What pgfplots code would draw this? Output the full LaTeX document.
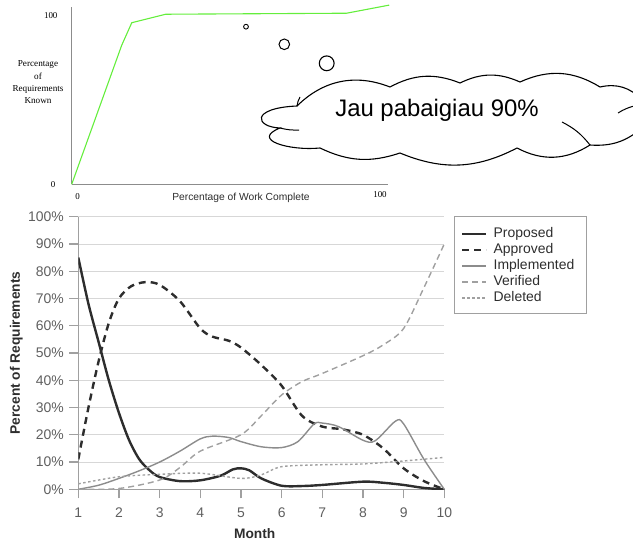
\documentclass[border=0pt]{standalone}
\usepackage{pgfplots}
\pgfplotsset{compat=1.18}
\usepackage{fontspec}
\setmainfont{Liberation Sans}
\newfontfamily\serif{Liberation Serif}
\definecolor{lgreen}{RGB}{100,238,60}
\definecolor{dk}{RGB}{45,45,45}
\definecolor{mg}{RGB}{140,140,140}
\definecolor{lg}{RGB}{160,160,160}
\definecolor{grd}{RGB}{215,215,215}
\definecolor{tl}{RGB}{95,95,95}
\begin{document}
\begin{tikzpicture}
% ---------- top chart ----------
\begin{axis}[
  at={(71.7bp,-184.3bp)}, anchor=south west,
  scale only axis, width=316.3bp, height=177bp,
  xmin=0, xmax=100, ymin=0, ymax=104.7,
  axis lines=left, axis line style={-, draw=mg, line width=1.3bp},
  xtick=\empty, ytick=\empty, clip=false,
]
\addplot[lgreen, line width=1.1bp] coordinates {
  (0,0) (15.8,82.2) (19.0,95.6) (29.7,100.6) (86.9,101.2) (100.4,106)
};
\end{axis}
\node[font=\serif\fontsize{9}{10}\selectfont, anchor=east] at (61bp,-15.3bp) {100};
\node[font=\serif\fontsize{9}{10}\selectfont, anchor=east] at (59bp,-185bp) {0};
\node[font=\serif\fontsize{9}{10}\selectfont] at (77.7bp,-197bp) {0};
\node[font=\serif\fontsize{9}{10}\selectfont] at (380bp,-195bp) {100};
\node[font=\fontsize{10.3}{12}\selectfont, text=dk] at (241bp,-198bp) {Percentage of Work Complete};
\node[font=\serif\fontsize{9.2}{12.4}\selectfont, align=center] at (38bp,-82.5bp) {Percentage\\of\\Requirements\\Known};
% thought cloud
\draw[line width=1.1bp, fill=white]
  (297bp,-106bp) to[bend left=33] (390bp,-87bp)
  to[bend left=25] (460bp,-83bp)
  to[bend left=25] (520bp,-82bp)
  to[bend left=28] (600bp,-87bp)
  to[bend left=30] (642bp,-100bp) -- (645bp,-100bp) -- (645bp,-128bp) -- (642bp,-128bp)
  to[bend left=22] (590bp,-145bp)
  to[bend left=30] (517bp,-148bp)
  to[bend left=25] (400bp,-153bp)
  to[bend left=22] (320bp,-148bp)
  .. controls (290bp,-151bp) and (250bp,-140bp) .. (280bp,-128bp)
  .. controls (255bp,-127bp) and (250bp,-108bp) .. (297bp,-106bp) -- cycle;
\draw[line width=1bp] (280bp,-128bp) to[bend right=8] (299bp,-130bp);
\draw[line width=1bp] (562bp,-122bp) to[bend left=12] (590bp,-145bp);
\draw[line width=1bp] (618bp,-113bp) to[bend left=8] (634bp,-106bp);
\draw[line width=1bp] (297bp,-106bp) to[bend left=10] (300bp,-97bp);
\node[font=\fontsize{24}{28}\selectfont] at (437bp,-110bp) {Jau pabaigiau 90\%};
\draw[line width=0.9bp] (246bp,-26.7bp) circle (2.4bp);
\draw[line width=1bp] (284.3bp,-44.3bp) circle (5.3bp);
\draw[line width=1.1bp] (326.7bp,-63.3bp) circle (7.4bp);
% legend frame
\draw[lg, line width=1.2bp] (454.5bp,-216.7bp) rectangle (586.7bp,-313.3bp);
% ---------- bottom chart ----------
\begin{axis}[
  at={(78.3bp,-489.3bp)}, anchor=south west,
  scale only axis, width=366bp, height=272.6bp,
  xmin=1, xmax=10, ymin=0, ymax=100,
  axis x line*=bottom, axis y line*=left,
  axis line style={-, draw=lg, line width=1.4bp},
  xtick={1,...,10}, ytick={0,10,...,100},
  yticklabel={\pgfmathprintnumber{\tick}\%},
  /pgf/number format/assume math mode=true,
  tick align=outside, major tick length=9bp,
  tick style={draw=lg, line width=1.2bp},
  ymajorgrids, grid style={draw=grd, line width=0.9bp},
  ticklabel style={font=\fontsize{14}{16}\selectfont, text=tl},
  yticklabel style={xshift=-2bp},
  xticklabel style={yshift=-6bp},
  xlabel={\textbf{Month}}, ylabel={\textbf{Percent of Requirements}},
  label style={font=\fontsize{13.8}{15}\selectfont, text=dk},
  xlabel style={at={(0.482,0)}, anchor=north, yshift=-36bp},
  ylabel style={at={(0,0.5)}, anchor=south, yshift=52bp},
  legend style={at={(1.028,1)}, anchor=north west, draw=none, fill=none,
    font=\fontsize{14}{16}\selectfont, text=dk, inner xsep=6.5bp, inner ysep=9bp,
    row sep=0bp, column sep=4bp,
    nodes={text height=10bp, text depth=3bp, inner ysep=1.5bp, inner xsep=2bp}},
  legend cell align=left,
  legend image code/.code={\draw[#1] (0bp,0bp) -- (24bp,0bp);},
]
\addplot[dk, line width=2.4bp, smooth] coordinates {
  (1,85) (1.25,68) (1.5,54) (1.75,40) (2,28) (2.25,18) (2.5,11) (2.75,7) (3,4.5)
  (3.5,3) (4,3.3) (4.5,5) (4.8,7.3) (5,7.7) (5.2,7) (5.5,4) (6,1.3) (6.5,1.2)
  (7,1.6) (8,2.8) (8.5,2.4) (9,1.6) (9.5,0.5) (10,0)
};
\addlegendentry{Proposed}
\addplot[dk, line width=2.4bp, dash pattern=on 7bp off 5bp, smooth] coordinates {
  (1,11) (1.25,30) (1.5,47) (1.75,61) (2,70) (2.3,74.5) (2.65,76) (3,75) (3.5,69)
  (4,59) (4.3,56) (4.7,54.5) (5,52) (5.5,45.6) (6,38) (6.5,27) (7,23) (7.5,22)
  (8,20) (8.5,15) (9,7.7) (9.5,3) (10,0)
};
\addlegendentry{Approved}
\addplot[mg, line width=1.4bp, smooth] coordinates {
  (1,0) (1.5,1.5) (2,4) (2.5,6.8) (3,10) (3.5,14) (4,18.5) (4.3,19.5) (4.7,19) (5,17.5)
  (5.5,15.6) (6,15.3) (6.4,17.5) (6.8,24) (7,24.3) (7.4,23) (8,18) (8.3,17.8)
  (8.8,25) (9,24) (9.5,11) (10,0)
};
\addlegendentry{Implemented}
\addplot[lg, line width=1.4bp, dash pattern=on 6bp off 4bp, smooth] coordinates {
  (1,0) (2,0.3) (3,3.4) (3.5,8) (4,14) (5,20) (5.5,27) (6,34.6) (6.5,39.5) (7,42.5)
  (8,49) (8.5,53) (9,59) (9.5,74) (10,90)
};
\addlegendentry{Verified}
\addplot[lg, line width=1.4bp, dash pattern=on 2.5bp off 2.5bp, smooth] coordinates {
  (1,2) (2,4.6) (3,5.5) (4,5.9) (5,4) (5.5,5.3) (6,8.3) (7,9) (8,9.3) (9,10.4) (10,11.7)
};
\addlegendentry{Deleted}
\end{axis}
\pgfresetboundingbox
\useasboundingbox (0,0) rectangle (633bp,-542bp);
\end{tikzpicture}
\end{document}
